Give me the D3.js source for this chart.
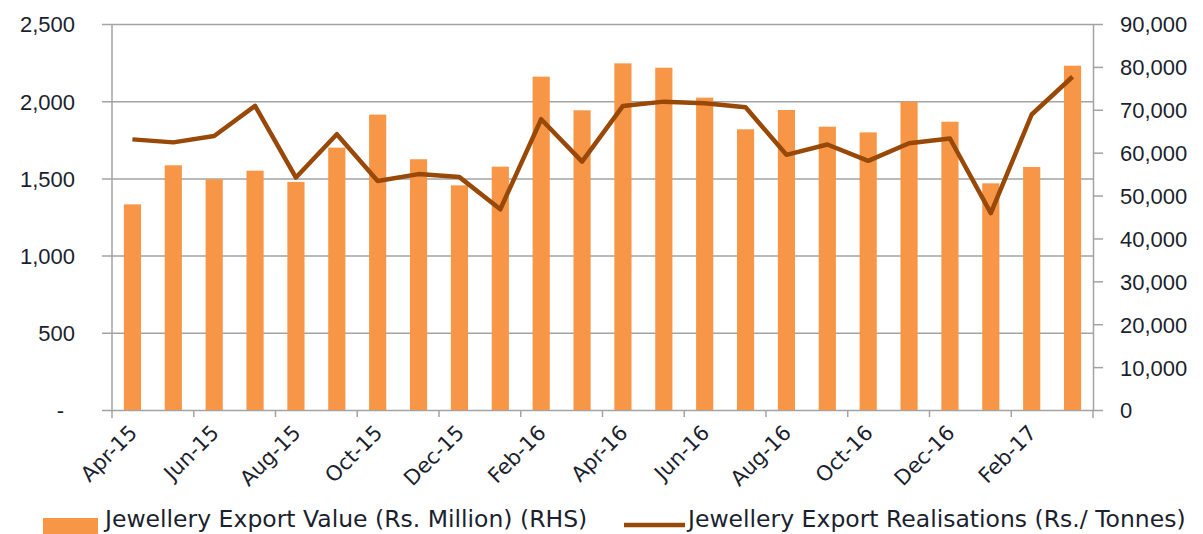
<!DOCTYPE html>
<html>
<head>
<meta charset="utf-8">
<script src="https://cdn.jsdelivr.net/npm/d3@7"></script>
<style>
  body { margin: 0; background: #fff; }
  svg { display: block; font-family: "DejaVu Sans", sans-serif; }
</style>
</head>
<body>
<svg width="1203" height="534"></svg>
<script>
const months = ["Apr-15", "May-15", "Jun-15", "Jul-15", "Aug-15", "Sep-15", "Oct-15", "Nov-15",
    "Dec-15", "Jan-16", "Feb-16", "Mar-16", "Apr-16", "May-16", "Jun-16", "Jul-16",
    "Aug-16", "Sep-16", "Oct-16", "Nov-16", "Dec-16", "Jan-17", "Feb-17", "Mar-17"];
const export_value = [1332, 1585, 1494, 1550, 1477, 1699, 1913, 1624,
    1455, 1576, 2159, 1941, 2245, 2217, 2023, 1818,
    1943, 1835, 1798, 1997, 1867, 1468, 1574, 2230];
const realisations = [63100, 62400, 63900, 70900, 54200, 64300, 53400, 55000,
    54300, 46800, 67800, 57900, 70900, 71900, 71500, 70600,
    59500, 61900, 58100, 62200, 63300, 45900, 68900, 77700];
const left_ticks = [0, 500, 1000, 1500, 2000, 2500];
const right_ticks = [0, 10000, 20000, 30000, 40000, 50000, 60000, 70000, 80000, 90000];
const legend_labels = ["Jewellery Export Value (Rs. Million) (RHS)", "Jewellery Export Realisations (Rs./ Tonnes)"];

const svg = d3.select("svg");
const margin = { top: 24, right: 110, bottom: 124, left: 112 };
const width = +svg.attr("width");
const height = +svg.attr("height");
const inner_width = width - margin.left - margin.right;
const inner_height = height - margin.top - margin.bottom;

const bar_color = "#f79646";
const line_color = "#984807";
const grid_color = "#a3a3a3";
const text_color = "#1b1f2e";

const g = svg.append("g").attr("transform", `translate(${margin.left},${margin.top})`);

const x = d3.scaleBand().domain(months).range([0, inner_width]).paddingInner(0.58).paddingOuter(0.29);
const x_step = inner_width / months.length;
const y_left = d3.scaleLinear().domain([0, 2500]).range([inner_height, 0]);
const y_right = d3.scaleLinear().domain([0, 90000]).range([inner_height, 0]);

// gridlines + left ticks
g.append("g")
    .call(d3.axisLeft(y_left).tickValues(left_ticks).tickSize(-inner_width).tickSizeOuter(0)
        .tickFormat(d => d === 0 ? "-" : d3.format(",")(d)))
    .call(a => a.select(".domain").remove())
    .call(a => a.selectAll("line").attr("stroke", grid_color).attr("stroke-width", 1.5)
        .attr("x1", -10))
    .call(a => a.selectAll("text").attr("fill", text_color).style("font-size", "22px")
        .attr("x", d => d === 0 ? -48 : -37).attr("dy", "0.36em"));

// right axis
g.append("g")
    .attr("transform", `translate(${inner_width},0)`)
    .call(d3.axisRight(y_right).tickValues(right_ticks).tickSize(10).tickSizeOuter(0)
        .tickFormat(d3.format(",")))
    .call(a => a.select(".domain").attr("stroke", grid_color).attr("stroke-width", 1.5))
    .call(a => a.selectAll("line").attr("stroke", grid_color).attr("stroke-width", 1.5))
    .call(a => a.selectAll("text").attr("fill", text_color).style("font-size", "22px")
        .attr("x", 27).attr("dy", "0.36em"));

// left axis line and outer bottom ticks
g.append("line")
    .attr("x1", 0).attr("x2", 0).attr("y1", 0).attr("y2", inner_height + 8)
    .attr("stroke", grid_color).attr("stroke-width", 1.5);
g.append("line")
    .attr("x1", inner_width).attr("x2", inner_width).attr("y1", inner_height).attr("y2", inner_height + 8)
    .attr("stroke", grid_color).attr("stroke-width", 1.5);

// bottom ticks every 2 months
const tick_pos = d3.range(2, months.length, 2).map(i => i * x_step);
g.selectAll(".xtick")
    .data(tick_pos)
    .enter()
    .append("line")
    .attr("x1", d => d).attr("x2", d => d)
    .attr("y1", inner_height).attr("y2", inner_height + 7)
    .attr("stroke", grid_color).attr("stroke-width", 1.5);

// bars
g.selectAll(".bar")
    .data(months)
    .enter()
    .append("rect")
    .attr("x", d => x(d))
    .attr("width", x.bandwidth())
    .attr("y", (d, i) => y_left(export_value[i]))
    .attr("height", (d, i) => inner_height - y_left(export_value[i]))
    .attr("fill", bar_color);

// line
const line = d3.line()
    .x((d, i) => x(months[i]) + x.bandwidth() / 2)
    .y(d => y_right(d));
g.append("path")
    .datum(realisations)
    .attr("d", line)
    .attr("fill", "none")
    .attr("stroke", line_color)
    .attr("stroke-width", 4.5)
    .attr("stroke-linejoin", "round");

// x labels
g.selectAll(".xlabel")
    .data(months.filter((d, i) => i % 2 === 0))
    .enter()
    .append("text")
    .attr("transform", d => `translate(${x(d) + x.bandwidth() / 2 + 6},${inner_height + 24}) rotate(-45)`)
    .attr("text-anchor", "end")
    .attr("fill", text_color)
    .style("font-size", "21px")
    .text(d => d);

// legend
const legend = svg.append("g").attr("transform", "translate(0,527)");
legend.append("rect").attr("x", 43).attr("y", -9).attr("width", 55).attr("height", 16).attr("fill", bar_color);
legend.append("text").attr("x", 105).attr("y", 0).attr("fill", text_color)
    .style("font-size", "23.5px").text(legend_labels[0]);
legend.append("line").attr("x1", 624).attr("x2", 685).attr("y1", -2).attr("y2", -2)
    .attr("stroke", line_color).attr("stroke-width", 4.5);
legend.append("text").attr("x", 688).attr("y", 0).attr("fill", text_color)
    .style("font-size", "23.5px").text(legend_labels[1]);
</script>
</body>
</html>
